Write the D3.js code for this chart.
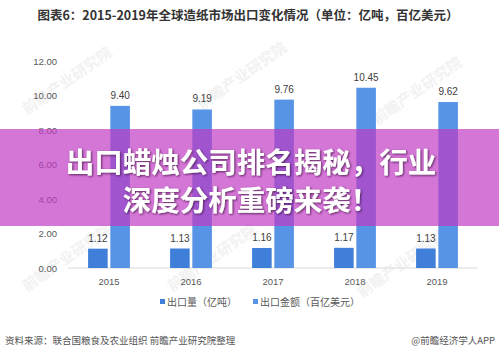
<!DOCTYPE html>
<html><head><meta charset="utf-8">
<script src="https://cdn.jsdelivr.net/npm/d3@7"></script>
<style>
html,body{margin:0;padding:0;background:#fff;}
svg{display:block;font-family:"Noto Sans CJK SC","Microsoft YaHei",sans-serif;}
</style></head>
<body><svg id="c" width="499" height="359"></svg>
<script>
const categories = ["2015","2016","2017","2018","2019"];
const seriesNames = ["出口量（亿吨）","出口金额（百亿美元）"];
const volume = [1.12,1.13,1.16,1.17,1.13];
const value = [9.40,9.19,9.76,10.45,9.62];
const yTicks = [0,2,4,6,8,10,12];
const titleText = "图表6：2015-2019年全球造纸市场出口变化情况（单位：亿吨，百亿美元）";
const bannerLines = ["出口蜡烛公司排名揭秘，行业","深度分析重磅来袭！"];
const sourceText = "资料来源：联合国粮食及农业组织 前瞻产业研究院整理";
const creditText = "@前瞻经济学人APP";
const watermark = "前瞻产业研究院";

const colors = ["#3f7fd9","#5894e6"];
const svg = d3.select("#c");

const wm = [[70,85],[245,80],[420,95],[70,262],[215,262],[405,268]];
svg.append("g").selectAll("text").data(wm).join("text")
  .attr("transform",d=>`translate(${d[0]},${d[1]}) rotate(-35)`)
  .attr("font-size",15).attr("font-weight","bold").attr("fill","#f2f2f2")
  .attr("text-anchor","middle").text(watermark);

svg.append("text").attr("x",248).attr("y",20).attr("text-anchor","middle")
  .attr("font-size",12.5).attr("font-weight","bold").attr("fill","#333")
  .text(titleText);

const x0 = d3.scaleBand().domain(categories).range([68,478]).paddingInner(0.49).paddingOuter(0.245);
const x1 = d3.scaleBand().domain([0,1]).range([0,x0.bandwidth()]).paddingInner(0.12);
const y = d3.scaleLinear().domain([0,12]).range([268,61]);

svg.append("g").selectAll("text").data(yTicks).join("text")
  .attr("x",57).attr("y",d=>y(d)+3.5).attr("text-anchor","end")
  .attr("font-size",9.5).attr("fill","#595959").attr("font-family","Liberation Sans, Arial, sans-serif")
  .text(d=>d.toFixed(2));

svg.append("line").attr("x1",68).attr("x2",478).attr("y1",y(0)).attr("y2",y(0))
  .attr("stroke","#d9d9d9").attr("stroke-width",1);

const data = categories.map((c,i)=>({c, vals:[volume[i], value[i]]}));
const g = svg.append("g").selectAll("g").data(data).join("g")
  .attr("transform",d=>`translate(${x0(d.c)},0)`);
g.selectAll("rect").data(d=>d.vals.map((v,k)=>({v,k}))).join("rect")
  .attr("x",d=>x1(d.k)).attr("width",x1.bandwidth())
  .attr("y",d=>y(d.v)).attr("height",d=>y(0)-y(d.v))
  .attr("fill",d=>colors[d.k]);
g.selectAll("text.v").data(d=>d.vals.map((v,k)=>({v,k}))).join("text")
  .attr("class","v")
  .attr("x",d=>x1(d.k)+x1.bandwidth()/2).attr("y",d=>y(d.v)-7)
  .attr("text-anchor","middle").attr("font-size",10).attr("fill","#404040")
  .attr("font-family","Liberation Sans, Arial, sans-serif")
  .text(d=>d.v.toFixed(2));

svg.append("g").selectAll("text").data(categories).join("text")
  .attr("x",d=>x0(d)+x0.bandwidth()/2).attr("y",285).attr("text-anchor","middle")
  .attr("font-size",9.5).attr("fill","#595959").attr("font-family","Liberation Sans, Arial, sans-serif")
  .text(d=>d);

const legX = [160,253];
const lg = svg.append("g").selectAll("g").data(seriesNames).join("g")
  .attr("transform",(d,i)=>`translate(${legX[i]},302)`);
lg.append("rect").attr("x",0).attr("y",-3).attr("width",5).attr("height",5).attr("fill",(d,i)=>colors[i]);
lg.append("text").attr("x",7).attr("y",3.5).attr("font-size",10).attr("fill","#595959").text(d=>d);

svg.append("text").attr("x",5).attr("y",344).attr("font-size",9.5).attr("fill","#555").text(sourceText);
svg.append("text").attr("x",495).attr("y",344).attr("text-anchor","end").attr("font-size",9.5).attr("fill","#555").text(creditText);

svg.append("rect").attr("x",0).attr("y",129).attr("width",499).attr("height",97)
  .attr("fill","rgb(192,56,195)").attr("fill-opacity",0.69);
const defs = svg.append("defs");
const f = defs.append("filter").attr("id","sh").attr("x","-10%").attr("y","-30%").attr("width","120%").attr("height","160%");
f.append("feDropShadow").attr("dx",1).attr("dy",1).attr("stdDeviation",1.2).attr("flood-color","#3a1040").attr("flood-opacity",0.8);
svg.append("g").selectAll("text").data(bannerLines).join("text")
  .attr("x",251).attr("y",(d,i)=>173+i*38).attr("text-anchor","middle")
  .attr("font-size",28.5).attr("font-weight","bold").attr("fill","#fff")
  .attr("filter","url(#sh)").text(d=>d);
</script></body></html>
